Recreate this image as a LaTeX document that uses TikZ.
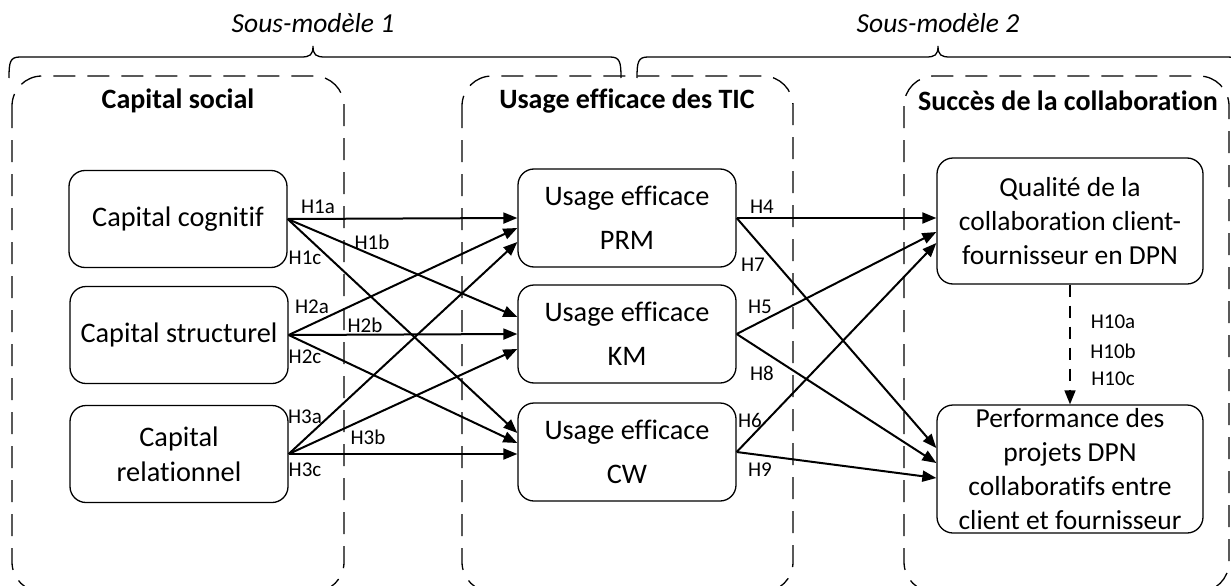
\documentclass[tikz,border=0pt]{standalone}
\usepackage{fontspec}
\setmainfont{Carlito}[Ligatures=NoCommon]
\usetikzlibrary{arrows.meta,positioning}
\tikzstyle{capital}=[draw, rounded corners=16pt, line width=1.3pt, minimum width=218pt, minimum height=97pt, align=center, inner sep=0pt, font=\fontsize{28.3}{35}\selectfont]
\tikzstyle{usage}=[capital, minimum height=98pt, font=\fontsize{28.3}{44}\selectfont]
\tikzstyle{succes}=[capital, minimum width=266pt, font=\fontsize{27.5}{34}\selectfont]
\tikzstyle{groupe}=[line width=1.3pt, rounded corners=30pt, dash pattern=on 22pt off 12pt]
\tikzstyle{titre}=[font=\bfseries\fontsize{28}{34}\selectfont]
\tikzstyle{sousmodele}=[font=\itshape\fontsize{27.5}{34}\selectfont]
\tikzstyle{hyp}=[font=\fontsize{21}{25}\selectfont, inner sep=0pt]
\tikzstyle{fleche}=[-{Triangle[length=14pt,width=11pt]}, line width=2pt]
\tikzstyle{accolade}=[line width=1.3pt]

\begin{document}
\begin{tikzpicture}[x=1pt, y=-1pt]
    \useasboundingbox (0,0) rectangle (1231,586);

    % Sub-models and their braces
    \node[sousmodele] (sm1) at (313,23) {Sous-modèle 1};
    \node[sousmodele] (sm2) at (938,23) {Sous-modèle 2};
    \draw[accolade] (9,78) .. controls (9,62) and (10,57) .. (20,57) -- (301,57)
        .. controls (310,57) and (313,55) .. (313,46) .. controls (313,55) and (316,57) .. (325,57)
        -- (610,57) .. controls (620,57) and (621,62) .. (621,78);
    \draw[accolade] (637,78) .. controls (637,62) and (638,57) .. (648,57) -- (926,57)
        .. controls (935,57) and (938,55) .. (938,46) .. controls (938,55) and (941,57) .. (950,57)
        -- (1228,57) .. controls (1238,57) and (1239,62) .. (1239,78);

    % Dashed groups
    \draw[groupe] (12,76) rectangle (344,592);
    \draw[groupe] (462,76) rectangle (793,592);
    \draw[groupe] (904,76) rectangle (1229,592);
    \node[titre] (tsocial) at (178,101) {Capital social};
    \node[titre] (ttic) at (627,101) {Usage efficace des TIC};
    \node[titre] (tsucces) at (1068,101) {Succès de la collaboration};

    % Place the boxes
    \node[capital] (cog) at (178,219) {Capital cognitif};
    \node[capital] (struc) at (179,335) {Capital structurel};
    \node[capital] (rel) at (179,454) {Capital\\relationnel};

    \node[usage] (prm) at (627,218) {Usage efficace\\PRM};
    \node[usage] (km) at (627,334) {Usage efficace\\KM};
    \node[usage] (cw) at (627,452) {Usage efficace\\CW};

    \node[succes, minimum height=126pt] (qual) at (1070,221) {Qualité de la\\collaboration client-\\fournisseur en DPN};
    \node[succes, minimum height=128pt] (perf) at (1070,469) {Performance des\\projets DPN\\collaboratifs entre\\client et fournisseur};

    % Social capital to ICT use
    \path[fleche] (cog.east) edge (prm.west);
    \path[fleche] (cog.east) edge ([yshift=17pt]km.west);
    \path[fleche] (cog.east) edge ([yshift=19pt]cw.west);
    \path[fleche] (struc.east) edge ([yshift=-10pt]prm.west);
    \path[fleche] (struc.east) edge (km.west);
    \path[fleche] (struc.east) edge ([yshift=9pt]cw.west);
    \path[fleche] (rel.east) edge ([yshift=-24pt]prm.west);
    \path[fleche] (rel.east) edge ([yshift=-15pt]km.west);
    \path[fleche] (rel.east) edge ([yshift=-2pt]cw.west);

    % ICT use to success
    \path[fleche] (prm.east) edge ([yshift=3pt]qual.west);
    \path[fleche] (prm.east) edge ([yshift=21pt]perf.west);
    \path[fleche] (km.east) edge ([yshift=-11pt]qual.west);
    \path[fleche] (km.east) edge ([yshift=6pt]perf.west);
    \path[fleche] (cw.east) edge ([yshift=-22pt]qual.west);
    \path[fleche] (cw.east) edge ([yshift=-9pt]perf.west);

    \path[fleche, line width=1.6pt, dash pattern=on 12pt off 9pt] (qual.south) edge (perf.north);

    % Hypotheses
    \node[hyp] (h1a) at (318,207) {H1a};
    \node[hyp] (h1b) at (372,242) {H1b};
    \node[hyp] (h1c) at (305,258) {H1c};
    \node[hyp] (h2a) at (312,307) {H2a};
    \node[hyp] (h2b) at (365,325) {H2b};
    \node[hyp] (h2c) at (305,357) {H2c};
    \node[hyp] (h3a) at (305,417) {H3a};
    \node[hyp] (h3b) at (368,437) {H3b};
    \node[hyp] (h3c) at (305,470) {H3c};
    \node[hyp] (h4) at (762,207) {H4};
    \node[hyp] (h7) at (753,265) {H7};
    \node[hyp] (h5) at (760,307) {H5};
    \node[hyp] (h8) at (762,373) {H8};
    \node[hyp] (h6) at (750,420) {H6};
    \node[hyp] (h9) at (760,470) {H9};
    \node[hyp] (h10a) at (1113,322) {H10a};
    \node[hyp] (h10b) at (1113,351) {H10b};
    \node[hyp] (h10c) at (1113,379) {H10c};
  \end{tikzpicture}
\end{document}
